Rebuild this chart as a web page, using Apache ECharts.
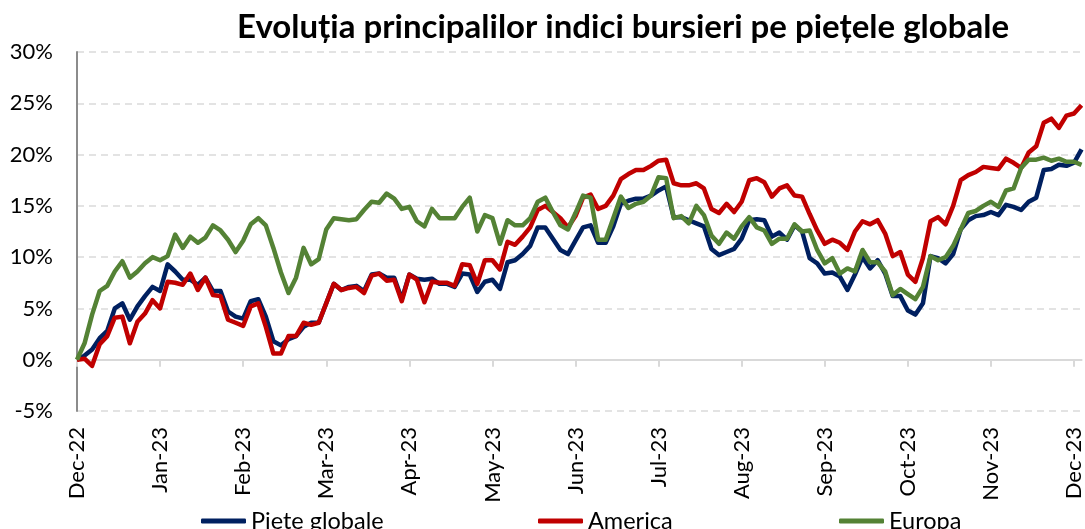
<!DOCTYPE html>
<html>
<head>
<meta charset="utf-8">
<script src="https://cdn.jsdelivr.net/npm/echarts@6/dist/echarts.min.js"></script>
<style>
  html, body { margin: 0; padding: 0; background: #fff; }
  #chart { width: 1085px; height: 529px; }
</style>
</head>
<body>
<div id="chart"></div>
<script>
// randament cumulat (%) fata de sfarsitul lui 2022, un punct la ~11 per luna
var monthLabels = ['Dec-22', 'Jan-23', 'Feb-23', 'Mar-23', 'Apr-23', 'May-23', 'Jun-23',
    'Jul-23', 'Aug-23', 'Sep-23', 'Oct-23', 'Nov-23', 'Dec-23'];
var stepsPerMonth = 11;

var globale = [0, 0.4, 1.0, 2.1, 2.8, 5.0, 5.5, 3.9, 5.2, 6.2, 7.1, 6.7, 9.3, 8.6, 7.8, 7.8, 7.3, 8.0, 6.7, 6.7,
    4.7, 4.2, 4.0, 5.7, 5.9, 4.2, 1.8, 1.4, 2.0, 2.3, 3.2, 3.6, 3.6, 5.5, 7.4, 6.8, 7.1, 7.2, 6.7, 8.3,
    8.4, 8.0, 8.0, 5.9, 8.3, 7.9, 7.8, 7.9, 7.4, 7.4, 7.1, 8.4, 8.3, 6.6, 7.6, 7.8, 6.9, 9.5, 9.7, 10.3,
    11.1, 12.9, 12.9, 11.8, 10.7, 10.3, 11.6, 12.9, 13.1, 11.4, 11.4, 13.0, 15.2, 15.5, 15.7, 15.7, 16.0, 16.5, 16.9, 13.9,
    13.9, 13.6, 13.3, 13.0, 10.8, 10.2, 10.5, 10.8, 11.8, 13.6, 13.7, 13.6, 12.0, 12.4, 11.7, 13.1, 12.5, 9.9, 9.4, 8.4,
    8.5, 8.1, 6.8, 8.3, 10.0, 8.9, 9.7, 8.4, 6.2, 6.2, 4.8, 4.4, 5.5, 10.1, 9.9, 9.4, 10.3, 12.7, 13.6, 14.0,
    14.1, 14.4, 14.1, 15.1, 14.9, 14.6, 15.4, 15.8, 18.5, 18.6, 19.0, 18.9, 19.2, 20.5];

var america = [0, 0.1, -0.6, 1.5, 2.3, 4.1, 4.2, 1.6, 3.7, 4.5, 5.8, 5.0, 7.6, 7.5, 7.3, 8.4, 6.8, 8.0, 6.3, 6.2,
    3.9, 3.6, 3.3, 5.2, 5.5, 3.2, 0.6, 0.6, 2.3, 2.3, 3.6, 3.4, 3.6, 5.5, 7.4, 6.8, 7.0, 7.1, 6.5, 8.2,
    8.4, 7.7, 7.8, 5.7, 8.3, 7.8, 5.6, 7.6, 7.5, 7.5, 7.2, 9.3, 9.2, 7.4, 9.7, 9.7, 8.8, 11.5, 11.2, 12.0,
    12.9, 14.6, 15.0, 14.4, 13.8, 12.9, 14.0, 15.8, 16.1, 14.7, 15.0, 16.0, 17.6, 18.1, 18.5, 18.5, 18.9, 19.4, 19.5, 17.2,
    17.0, 17.0, 17.2, 16.7, 14.7, 14.3, 15.2, 14.4, 15.4, 17.5, 17.7, 17.3, 15.9, 16.7, 17.0, 16.0, 15.9, 14.2, 12.6, 11.3,
    11.7, 11.4, 10.7, 12.5, 13.5, 13.2, 13.6, 12.3, 10.1, 10.5, 8.3, 7.6, 9.9, 13.5, 13.9, 13.2, 15.0, 17.5, 18.0, 18.3,
    18.8, 18.7, 18.6, 19.6, 19.2, 18.7, 20.2, 20.8, 23.1, 23.5, 22.6, 23.8, 24.0, 24.8];

var europa = [0, 1.6, 4.4, 6.7, 7.2, 8.6, 9.6, 8.0, 8.6, 9.4, 10.0, 9.7, 10.1, 12.2, 10.9, 12.0, 11.4, 11.9, 13.1, 12.6,
    11.7, 10.5, 11.6, 13.2, 13.8, 13.1, 10.9, 8.5, 6.5, 8.0, 10.9, 9.3, 9.8, 12.7, 13.8, 13.7, 13.6, 13.7, 14.6, 15.4,
    15.3, 16.2, 15.7, 14.7, 14.9, 13.5, 13.0, 14.7, 13.8, 13.8, 13.8, 14.9, 15.8, 12.5, 14.1, 13.8, 11.3, 13.6, 13.1, 13.1,
    13.8, 15.4, 15.8, 14.4, 13.1, 12.7, 14.3, 16.0, 15.8, 11.7, 11.7, 13.8, 15.9, 14.8, 15.2, 15.4, 16.0, 17.8, 17.7, 13.8,
    14.0, 13.3, 15.0, 14.1, 12.1, 11.3, 12.4, 11.8, 13.0, 13.9, 12.9, 12.6, 11.3, 11.8, 11.8, 13.2, 12.5, 12.6, 10.7, 9.4,
    9.9, 8.4, 8.9, 8.6, 10.7, 9.5, 9.5, 8.6, 6.3, 6.9, 6.4, 5.9, 7.1, 10.1, 9.7, 10.0, 11.1, 12.7, 14.3, 14.5,
    15.0, 15.4, 14.9, 16.5, 16.7, 18.7, 19.5, 19.5, 19.7, 19.4, 19.6, 19.3, 19.3, 19.0];

var days = [];
for (var i = 0; i < globale.length; i++) {
    days.push(i);
}

var font = 'Lato, "Open Sans", sans-serif';

function isMonth(index) {
    return index % stepsPerMonth === 0;
}

var chart = echarts.init(document.getElementById('chart'));

function serie(name, data, color) {
    return {
        name: name,
        type: 'line',
        data: data,
        showSymbol: false,
        symbol: 'none',
        xAxisIndex: 0,
        lineStyle: { width: 4.5, color: color, join: 'round' },
        itemStyle: { color: color },
        animation: false
    };
}

var legendBase = {
    top: 504,
    icon: 'roundRect',
    itemWidth: 45,
    itemHeight: 5,
    textStyle: { fontFamily: font, fontSize: 23.5, color: '#000' }
};

option = {
    backgroundColor: '#fff',
    title: {
        text: 'Evoluția principalilor indici bursieri pe piețele globale',
        left: 232,
        top: 6,
        textStyle: { fontFamily: font, fontSize: 33, fontWeight: 'bold', color: '#000' }
    },
    legend: [
        Object.assign({ data: ['Piețe globale'], left: 196 }, legendBase),
        Object.assign({ data: ['America'], left: 533 }, legendBase),
        Object.assign({ data: ['Europa'], left: 834 }, legendBase)
    ],
    grid: { left: 77, right: 1, top: 52, bottom: 118 },
    xAxis: [{
            // linia de zero, cu gradatii
            type: 'category',
            data: days,
            boundaryGap: false,
            axisLine: { onZero: true, lineStyle: { color: '#d9d9d9', width: 2 } },
            axisTick: { show: true, interval: isMonth, length: 7, lineStyle: { color: '#d9d9d9', width: 2 } },
            axisLabel: { show: false },
            splitLine: { show: false }
        },
        {
            // etichetele lunilor, jos
            type: 'category',
            data: days,
            boundaryGap: false,
            position: 'bottom',
            axisLine: { show: false, onZero: false },
            axisTick: { show: false },
            axisLabel: {
                interval: isMonth,
                rotate: 90,
                margin: 16,
                fontFamily: font,
                fontSize: 22,
                color: '#000',
                formatter: function(v, idx) {
                    return monthLabels[idx / stepsPerMonth];
                }
            },
            splitLine: { show: false }
        }
    ],
    yAxis: {
        type: 'value',
        min: -5,
        max: 30,
        interval: 5,
        axisLine: { show: true, lineStyle: { color: '#8c8c8c', width: 2 } },
        axisTick: { show: false },
        axisLabel: {
            margin: 24,
            fontFamily: font,
            fontSize: 22,
            color: '#000',
            formatter: '{value}%'
        },
        splitLine: { lineStyle: { color: '#e3e3e3', width: 2, type: [7, 5] } }
    },
    series: [
        serie('Piețe globale', globale, '#002060'),
        serie('America', america, '#c00000'),
        serie('Europa', europa, '#548235')
    ]
};

chart.setOption(option);
</script>
</body>
</html>
